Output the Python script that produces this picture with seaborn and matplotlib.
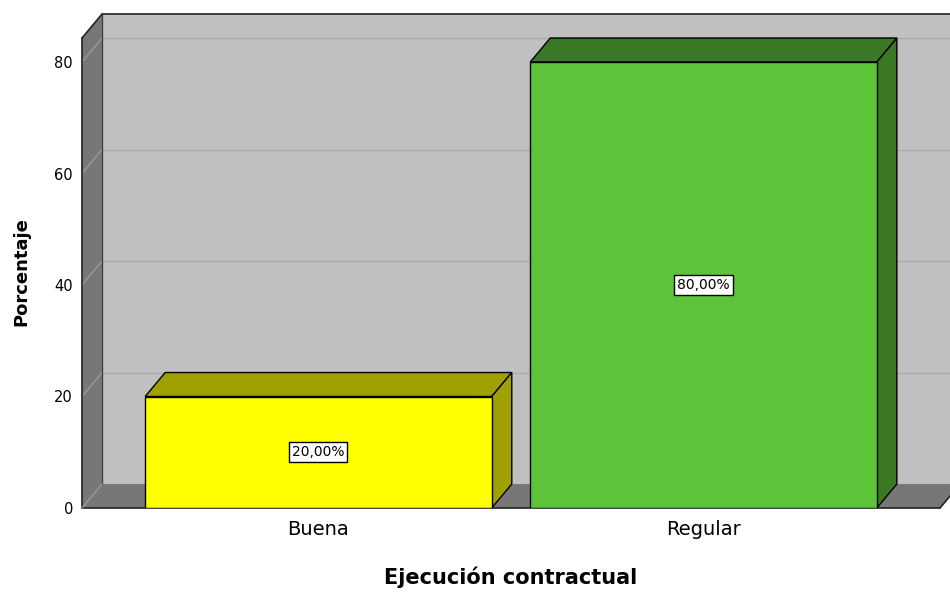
import matplotlib
matplotlib.use("Agg")
import matplotlib.pyplot as plt
import seaborn as sns
import pandas as pd
from matplotlib.patches import Polygon

# data
categories = ["Buena", "Regular"]
percentages = [20.0, 80.0]
labels = ["20,00%", "80,00%"]
front_colors = ["#FFFF00", "#5DC43A"]
shade_colors = ["#A0A000", "#3A7826"]
y_ticks = [0, 20, 40, 60, 80]

# 3D look
X0, X1 = -0.614, 1.614      # front floor extent (category units)
Y_TOP = 84.3                 # top of the walls, front
DX, DY = 0.052, 4.3          # depth offset in data units
WALL_BACK = "#C0C0C0"
WALL_SIDE = "#777777"
GRID = "#ABABAB"

sns.set_style("white")
plt.rcParams["font.family"] = ["DejaVu Sans"]
plt.rcParams["text.color"] = "black"

fig = plt.figure(figsize=(9.5, 5.92), dpi=100)
ax = fig.add_axes([82 / 950, 84 / 592, 858 / 950, 494 / 592])

df = pd.DataFrame({"cat": categories, "pct": percentages})

# walls and floor
back = Polygon([(X0 + DX, DY), (X1 + DX + 0.2, DY), (X1 + DX + 0.2, Y_TOP + DY),
                (X0 + DX, Y_TOP + DY)], closed=True, facecolor=WALL_BACK,
               edgecolor="none", zorder=0.2, clip_on=False)
left = Polygon([(X0, 0), (X0 + DX, DY), (X0 + DX, Y_TOP + DY), (X0, Y_TOP)],
               closed=True, facecolor=WALL_SIDE, edgecolor="none", zorder=0.3,
               clip_on=False)
floor = Polygon([(X0, 0), (X1, 0), (X1 + DX, DY), (X0 + DX, DY)], closed=True,
                facecolor=WALL_SIDE, edgecolor="none", zorder=0.3, clip_on=False)
for p in (back, left, floor):
    ax.add_patch(p)

# gridlines on back and left walls
for v in y_ticks[1:]:
    ax.plot([X0 + DX, X1 + DX + 0.2], [v + DY, v + DY], color=GRID, lw=1,
            zorder=0.25, clip_on=False)
    ax.plot([X0, X0 + DX], [v, v + DY], color="#9A9A9A", lw=1, zorder=0.35,
            clip_on=False)

# wall edges
edge_kw = dict(color="#222222", lw=1.2, zorder=0.4, clip_on=False)
ax.plot([X0, X0], [0, Y_TOP], **edge_kw)
ax.plot([X0, X0 + DX], [Y_TOP, Y_TOP + DY], **edge_kw)
ax.plot([X0 + DX, X1 + DX + 0.2], [Y_TOP + DY, Y_TOP + DY], **edge_kw)
ax.plot([X0 + DX, X0 + DX], [DY, Y_TOP + DY], color="#444444", lw=1,
        zorder=0.4, clip_on=False)
ax.plot([X0, X1], [0, 0], **edge_kw)
ax.plot([X1, X1 + DX], [0, DY], **edge_kw)
ax.plot([X0, X0 + DX], [0, DY], color="#9A9A9A", lw=1, zorder=0.4, clip_on=False)

# front faces via seaborn
sns.barplot(data=df, x="cat", y="pct", hue="cat", palette=front_colors,
            saturation=1, width=0.9, edgecolor="black", linewidth=1,
            legend=False, ax=ax, zorder=2)

# top and side faces built from the drawn bars
bars = [p for p in ax.patches if p.get_zorder() == 2]
for bar, shade, lab in zip(bars, shade_colors, labels):
    x = bar.get_x()
    w = bar.get_width()
    h = bar.get_height()
    top = Polygon([(x, h), (x + w, h), (x + w + DX, h + DY), (x + DX, h + DY)],
                  closed=True, facecolor=shade, edgecolor="black", lw=1,
                  zorder=1.9, clip_on=False)
    side = Polygon([(x + w, 0), (x + w + DX, DY), (x + w + DX, h + DY), (x + w, h)],
                   closed=True, facecolor=shade, edgecolor="black", lw=1,
                   zorder=1.9, clip_on=False)
    ax.add_patch(top)
    ax.add_patch(side)
    ax.text(x + w / 2, h / 2, lab, ha="center", va="center", fontsize=10,
            color="black", zorder=3,
            bbox=dict(boxstyle="square,pad=0.2", facecolor="white",
                      edgecolor="black", lw=1))

ax.set_xlim(X0, X1)
ax.set_ylim(0, 494 / 5.575)
ax.set_yticks(y_ticks)
ax.set_yticklabels([str(t) for t in y_ticks], fontsize=10.5)
ax.tick_params(axis="y", length=0, pad=6.5, labelcolor="black")
ax.tick_params(axis="x", length=0, pad=8.5, labelsize=14, labelcolor="black")
for s in ax.spines.values():
    s.set_visible(False)

ax.set_ylabel("Porcentaje", fontsize=13, fontweight="bold", color="black")
ax.yaxis.set_label_coords(-0.0606, 0.478)
ax.set_xlabel("Ejecución contractual", fontsize=15, fontweight="bold",
              color="black")
ax.xaxis.set_label_coords(0.499, -0.119)

fig.savefig("out.png", dpi=100)
